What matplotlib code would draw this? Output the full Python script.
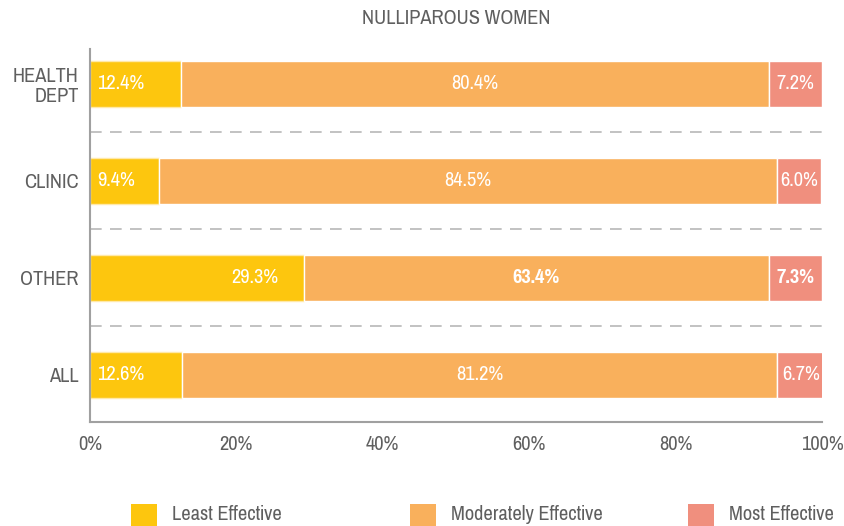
import matplotlib
matplotlib.use("Agg")
import matplotlib.pyplot as plt
from matplotlib.patches import Rectangle
from matplotlib import font_manager
import matplotlib.patheffects as pe

categories = ["HEALTH\nDEPT", "CLINIC", "OTHER", "ALL"]
least = [12.4, 9.4, 29.3, 12.6]
moderate = [80.4, 84.5, 63.4, 81.2]
most = [7.2, 6.0, 7.3, 6.7]
bold_rows = [False, False, True, False]
series_names = ["Least Effective", "Moderately Effective", "Most Effective"]
colors = ["#FDC60E", "#F9B05C", "#F08F7E"]
xticks = [0, 20, 40, 60, 80, 100]
title = "NULLIPAROUS WOMEN"

prefs = ["Liberation Sans Narrow", "Pragati Narrow", "Roboto Condensed", "PT Sans Narrow",
         "Archivo Narrow", "Liberation Sans"]
available = {}
for f in font_manager.fontManager.ttflist:
    available.setdefault(f.name, set()).add(f.weight)
family = next((p for p in prefs if p in available), "DejaVu Sans")
has_bold = any((w == "bold" or (isinstance(w, int) and w >= 600)) for w in available.get(family, []))
plt.rcParams["font.family"] = [family, "DejaVu Sans"]
fs = 16

gray = "#5f5f5f"

fig = plt.figure(figsize=(8.44, 5.26), dpi=100)
ax = fig.add_axes([90/844, 1-422/526, 732/844, 373/526])

y = list(range(len(categories)))
h = 0.475
lefts2 = least
lefts3 = [a + b for a, b in zip(least, moderate)]
ax.barh(y, least, height=h, color=colors[0], edgecolor="#FFE9A8", linewidth=1)
ax.barh(y, moderate, left=lefts2, height=h, color=colors[1], edgecolor="white", linewidth=1)
ax.barh(y, most, left=lefts3, height=h, color=colors[2], edgecolor="white", linewidth=1)


def label(x, yy, s, ha, bold=False):
    kw = dict(ha=ha, va="center", color="white", fontsize=fs)
    if bold:
        kw["fontweight"] = "bold"
        if not has_bold:
            kw["path_effects"] = [pe.withStroke(linewidth=1.0, foreground="white")]
    ax.text(x, yy, s, **kw)


for i in y:
    b = bold_rows[i]
    if least[i] > 20:
        label(least[i] - 3.5, i, f"{least[i]:.1f}%", "right")
    else:
        label(1.0, i, f"{least[i]:.1f}%", "left")
    label(lefts2[i] + moderate[i] / 2, i, f"{moderate[i]:.1f}%", "center", b)
    label(lefts3[i] + most[i] / 2, i, f"{most[i]:.1f}%", "center", b)

for i in range(len(categories) - 1):
    ax.axhline(i + 0.5, color="#b8b8b8", linewidth=1.2, linestyle=(0, (7, 5)))

ax.set_xlim(0, 100)
ax.set_ylim(3.485, -0.36)
ax.set_yticks(y)
ax.set_yticklabels(categories, fontsize=fs, color=gray, linespacing=1.1)
ax.set_xticks(xticks)
ax.set_xticklabels([f"{t}%" for t in xticks], fontsize=fs, color=gray)
ax.tick_params(axis="both", length=0)
ax.tick_params(axis="x", pad=9)
ax.tick_params(axis="y", pad=8)
for s in ["top", "right"]:
    ax.spines[s].set_visible(False)
for s in ["left", "bottom"]:
    ax.spines[s].set_color("#a0a0a0")
    ax.spines[s].set_linewidth(1.5)

fig.text(456/844, 1-18/526, title, ha="center", va="center", fontsize=fs, color=gray)

leg_x = [131, 410, 688]
for x0, name, c in zip(leg_x, series_names, colors):
    fig.add_artist(Rectangle((x0/844, 0), 26/844, 22/526, transform=fig.transFigure,
                             facecolor=c, edgecolor="none"))
    fig.text((x0 + 41)/844, 11/526, name, ha="left", va="center", fontsize=fs, color=gray)

fig.savefig("out.png", dpi=100)
